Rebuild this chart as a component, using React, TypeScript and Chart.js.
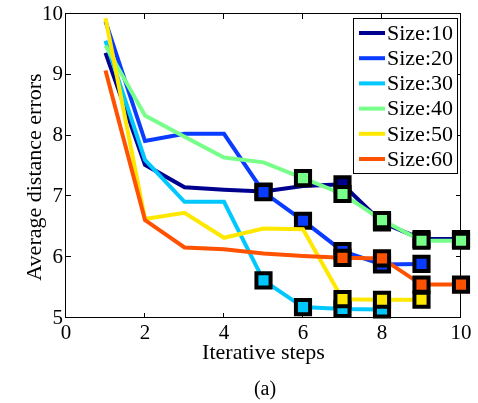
import React, { useEffect, useRef } from "react";
import { Chart, registerables } from "chart.js";

Chart.register(...registerables);

const steps = [1, 2, 3, 4, 5, 6, 7, 8, 9, 10];
const seriesLabels = ["Size:10", "Size:20", "Size:30", "Size:40", "Size:50", "Size:60"];
const size10 = [9.36, 7.52, 7.15, 7.11, 7.08, 7.17, 7.2, 6.57, 6.3, 6.3];
const size20 = [9.88, 7.91, 8.03, 8.03, 7.07, 6.6, 6.1, 5.88, 5.89, null];
const size30 = [9.56, 7.6, 6.91, 6.91, 5.62, 5.18, 5.15, 5.14, null, null];
const size40 = [9.48, 8.33, 7.98, 7.64, 7.56, 7.3, 7.04, 6.61, 6.27, 6.27];
const size50 = [9.93, 6.63, 6.73, 6.32, 6.47, 6.46, 5.31, 5.3, 5.3, null];
const size60 = [9.07, 6.61, 6.16, 6.13, 6.06, 6.02, 5.99, 5.98, 5.55, 5.55];
const markers10 = [5, 7, 8, 9, 10];
const markers20 = [5, 6, 7, 8, 9];
const markers30 = [5, 6, 7, 8];
const markers40 = [6, 7, 8, 9, 10];
const markers50 = [7, 8, 9];
const markers60 = [7, 8, 9, 10];
const colors = ["#00008f", "#0a3cff", "#00c8ff", "#78ff8a", "#ffe800", "#ff5200"];
const xTickValues = [0, 2, 4, 6, 8, 10];
const yTickValues = [5, 6, 7, 8, 9, 10];
const xTitle = "Iterative steps";
const yTitle = "Average distance errors";
const caption = "(a)";

const seriesValues = [size10, size20, size30, size40, size50, size60];
const seriesMarkers = [markers10, markers20, markers30, markers40, markers50, markers60];

const FONT = "'Liberation Serif', 'Times New Roman', serif";

const framePlugin = {
  id: "frame",
  beforeDatasetsDraw(chart: any) {
    const { ctx, chartArea: a, scales } = chart;
    const x = scales.x;
    const y = scales.y;
    ctx.save();
    ctx.strokeStyle = "#000";
    ctx.lineWidth = 1;
    ctx.strokeRect(Math.round(a.left) - 0.5, Math.round(a.top) - 0.5, a.right - a.left, a.bottom - a.top);
    const tl = 5;
    ctx.beginPath();
    xTickValues.forEach((v) => {
      const px = Math.round(x.getPixelForValue(v)) - 0.5;
      ctx.moveTo(px, a.bottom);
      ctx.lineTo(px, a.bottom - tl);
      ctx.moveTo(px, a.top);
      ctx.lineTo(px, a.top + tl);
    });
    yTickValues.forEach((v) => {
      const py = Math.round(y.getPixelForValue(v)) - 0.5;
      ctx.moveTo(a.left, py);
      ctx.lineTo(a.left + tl, py);
      ctx.moveTo(a.right, py);
      ctx.lineTo(a.right - tl, py);
    });
    ctx.stroke();
    ctx.restore();
  },
  afterDraw(chart: any) {
    const { ctx, chartArea: a } = chart;
    ctx.save();
    ctx.fillStyle = "#000";
    ctx.font = `22px ${FONT}`;
    ctx.textAlign = "center";
    ctx.textBaseline = "middle";
    ctx.translate(35, 177);
    ctx.rotate(-Math.PI / 2);
    ctx.fillText(yTitle, 0, 0);
    ctx.restore();

    ctx.save();
    ctx.fillStyle = "#000";
    ctx.font = `20px ${FONT}`;
    ctx.textAlign = "center";
    ctx.textBaseline = "middle";
    ctx.fillText(caption, 265, 390);
    ctx.restore();

    ctx.save();
    const bw = 104;
    const bh = 155;
    const bx = Math.round(a.right) - 4 - bw;
    const by = Math.round(a.top) + 4;
    ctx.fillStyle = "#fff";
    ctx.fillRect(bx, by, bw, bh);
    ctx.strokeStyle = "#000";
    ctx.lineWidth = 1;
    ctx.strokeRect(bx + 0.5, by + 0.5, bw, bh);
    ctx.font = `22px ${FONT}`;
    ctx.textBaseline = "middle";
    ctx.textAlign = "left";
    chart.data.datasets.forEach((ds: any, i: number) => {
      const cy = by + 15 + i * 25.2;
      ctx.strokeStyle = ds.borderColor;
      ctx.lineWidth = 4;
      ctx.beginPath();
      ctx.moveTo(bx + 6, cy);
      ctx.lineTo(bx + 32, cy);
      ctx.stroke();
      ctx.fillStyle = "#000";
      ctx.fillText(ds.label, bx + 34, cy + 1);
    });
    ctx.restore();
  },
};

export default function App() {
  const ref = useRef<HTMLCanvasElement | null>(null);

  useEffect(() => {
    document.body.style.margin = "0";
    const canvas = ref.current;
    if (!canvas) return;
    const datasets = seriesLabels.map((label, i) => {
      const pts = steps
        .map((s, j) => ({ x: s, y: seriesValues[i][j] }))
        .filter((p) => p.y !== null);
      return {
        label,
        data: pts,
        order: seriesLabels.length - i,
        borderColor: colors[i],
        backgroundColor: colors[i],
        borderWidth: 4,
        pointStyle: "rect",
        pointRadius: pts.map((p) => (seriesMarkers[i].includes(p.x) ? 10 : 0)),
        pointBorderColor: "#000",
        pointBackgroundColor: colors[i],
        pointBorderWidth: 4,
        tension: 0,
        clip: false,
      };
    });

    const chart = new Chart(canvas, {
      type: "line",
      data: { datasets } as any,
      options: {
        animation: false,
        responsive: false,
        devicePixelRatio: 1,
        layout: { padding: { left: 0, top: 11, right: 17, bottom: 0 } },
        plugins: { legend: { display: false }, tooltip: { enabled: false } },
        scales: {
          x: {
            type: "linear",
            min: 0,
            max: 10,
            afterBuildTicks: (s: any) => {
              s.ticks = xTickValues.map((v) => ({ value: v }));
            },
            afterFit: (s: any) => {
              s.height = 85;
              s.paddingLeft = 0;
              s.paddingRight = 0;
            },
            ticks: { font: { family: FONT, size: 21 }, color: "#000", padding: 3, maxRotation: 0 },
            grid: { display: false, drawTicks: false },
            border: { display: false },
            title: {
              display: true,
              text: xTitle,
              color: "#000",
              font: { family: FONT, size: 22 },
              padding: { top: 0, bottom: 37 },
            },
          },
          y: {
            type: "linear",
            min: 5,
            max: 10,
            afterBuildTicks: (s: any) => {
              s.ticks = yTickValues.map((v) => ({ value: v }));
            },
            afterFit: (s: any) => {
              s.width = 66;
              s.paddingTop = 0;
              s.paddingBottom = 0;
            },
            ticks: { font: { family: FONT, size: 21 }, color: "#000", padding: 3 },
            grid: { display: false, drawTicks: false },
            border: { display: false },
          },
        },
      } as any,
      plugins: [framePlugin],
    });
    return () => chart.destroy();
  }, []);

  return (
    <div style={{ position: "absolute", left: 0, top: 0, width: 478, height: 403, background: "#fff" }}>
      <canvas ref={ref} width={478} height={403} style={{ width: 478, height: 403 }} />
    </div>
  );
}
